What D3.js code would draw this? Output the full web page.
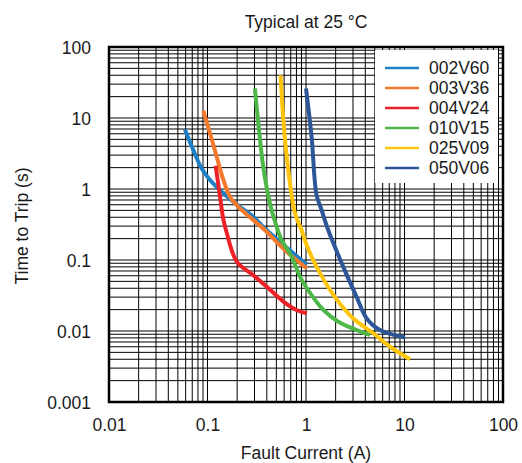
<!DOCTYPE html>
<html>
<head>
<meta charset="utf-8">
<script src="https://cdn.jsdelivr.net/npm/d3@7/dist/d3.min.js"></script>
<style>
  html, body { margin: 0; padding: 0; background: #fff; }
  svg { display: block; }
  text { font-family: "Liberation Sans", Arial, sans-serif; fill: #1a1a1a; }
</style>
</head>
<body>
<svg id="chart" width="522" height="463"></svg>
<script>
const title = "Typical at 25 °C";
const xLabel = "Fault Current (A)";
const yLabel = "Time to Trip (s)";
const xTicks = [0.01, 0.1, 1, 10, 100];
const xTickLabels = ["0.01", "0.1", "1", "10", "100"];
const yTicks = [0.001, 0.01, 0.1, 1, 10, 100];
const yTickLabels = ["0.001", "0.01", "0.1", "1", "10", "100"];
const seriesNames = ["002V60", "003V36", "004V24", "010V15", "025V09", "050V06"];
const seriesColors = ["#1f80c6", "#f47a2b", "#ee2129", "#4db748", "#ffc50c", "#2c5698"];

// [current (A), time (s)]
const s002V60 = [[0.059,6.9],[0.072,3.5],[0.087,1.96],[0.106,1.34],[0.145,0.87],[0.206,0.58],[0.29,0.41],[0.38,0.28],[0.6,0.16],[1.02,0.086]];
const s003V36 = [[0.0906,12.7],[0.106,6.1],[0.124,2.85],[0.145,1.34],[0.169,0.78],[0.206,0.56],[0.27,0.40],[0.37,0.275],[0.64,0.13],[1.02,0.076]];
const s004V24 = [[0.121,2.13],[0.134,0.78],[0.145,0.37],[0.157,0.24],[0.198,0.095],[0.29,0.0615],[0.40,0.042],[0.59,0.026],[0.80,0.0198],[1.02,0.0177]];
const s010V15 = [[0.303,26],[0.328,8.4],[0.368,2.06],[0.43,0.63],[0.49,0.33],[0.566,0.19],[0.716,0.111],[0.87,0.058],[1.02,0.040],[1.5,0.0198],[2.13,0.0135],[3.27,0.0103],[4.47,0.0088]];
const s025V09 = [[0.553,40],[0.589,9.4],[0.661,1.85],[0.773,0.454],[0.90,0.265],[1.02,0.16],[1.28,0.08],[1.97,0.030],[3.02,0.015],[4.82,0.0093],[7.13,0.006],[11.4,0.004]];
const s050V06 = [[1.0,26],[1.14,5.45],[1.28,0.82],[1.44,0.506],[1.68,0.265],[2.39,0.08],[3.27,0.030],[4.13,0.015],[5.64,0.0103],[10.1,0.0081]];
const seriesData = [s002V60, s003V36, s004V24, s010V15, s025V09, s050V06];

const svg = d3.select("#chart");
const L = 109, R = 503, T = 47, B = 402;
const x = d3.scaleLog().domain([0.01, 100]).range([L, R]);
const y = d3.scaleLog().domain([0.001, 100]).range([B, T]);

// grid
const gridVals = (lo, hi) => {
  const out = [];
  for (let e = Math.log10(lo); e < Math.log10(hi); e++) {
    for (let k = 1; k <= 9; k++) out.push(k * Math.pow(10, e));
  }
  out.push(hi);
  return out;
};
const grid = svg.append("g");
grid.selectAll("line.v").data(gridVals(0.01, 100)).join("line")
  .attr("x1", d => x(d)).attr("x2", d => x(d)).attr("y1", T).attr("y2", B)
  .attr("stroke", "#000").attr("stroke-width", 1);
grid.selectAll("line.h").data(gridVals(0.001, 100)).join("line")
  .attr("y1", d => y(d)).attr("y2", d => y(d)).attr("x1", L).attr("x2", R)
  .attr("stroke", "#000").attr("stroke-width", 1);

// series
const line = d3.line().x(d => x(d[0])).y(d => y(d[1])).curve(d3.curveCatmullRom.alpha(0.5));
seriesData.forEach((s, i) => {
  svg.append("path").datum(s).attr("d", line)
    .attr("fill", "none").attr("stroke", seriesColors[i])
    .attr("stroke-width", 4).attr("stroke-linejoin", "round");
});

// legend
const lg = svg.append("g");
lg.append("rect").attr("x", 375).attr("y", 50).attr("width", 123).attr("height", 133).attr("fill", "#fff");
seriesNames.forEach((n, i) => {
  const yy = 68 + i * 20;
  lg.append("line").attr("x1", 385).attr("x2", 419).attr("y1", yy).attr("y2", yy)
    .attr("stroke", seriesColors[i]).attr("stroke-width", 2.5);
  lg.append("text").attr("x", 429).attr("y", yy + 6).attr("font-size", "17.5px").text(n);
});

// frame
svg.append("rect").attr("x", L).attr("y", T).attr("width", R - L).attr("height", B - T)
  .attr("fill", "none").attr("stroke", "#000").attr("stroke-width", 2.5);

// axes
const xAxis = d3.axisBottom(x).tickValues(xTicks).tickFormat((d, i) => xTickLabels[i]).tickSize(0).tickPadding(0);
const gx = svg.append("g").attr("transform", `translate(0,${B})`).call(xAxis);
gx.select(".domain").remove();
gx.selectAll("text").attr("font-size", "17.5px").attr("y", 29).attr("dy", 0)
  .attr("font-family", "Liberation Sans, Arial, sans-serif").attr("fill", "#1a1a1a");

const yAxis = d3.axisLeft(y).tickValues(yTicks).tickFormat((d, i) => yTickLabels[i]).tickSize(0).tickPadding(0);
const gy = svg.append("g").attr("transform", `translate(91,0)`).call(yAxis);
gy.select(".domain").remove();
gy.selectAll("text").attr("font-size", "17.5px").attr("x", 0).attr("dy", "0.35em")
  .attr("font-family", "Liberation Sans, Arial, sans-serif").attr("fill", "#1a1a1a");

svg.append("text").attr("x", 306).attr("y", 28).attr("text-anchor", "middle").attr("font-size", "17.5px").text(title);
svg.append("text").attr("x", 306).attr("y", 459).attr("text-anchor", "middle").attr("font-size", "17.5px").text(xLabel);
svg.append("text").attr("transform", "translate(28,226) rotate(-90)").attr("text-anchor", "middle").attr("font-size", "17.5px").text(yLabel);
</script>
</body>
</html>
